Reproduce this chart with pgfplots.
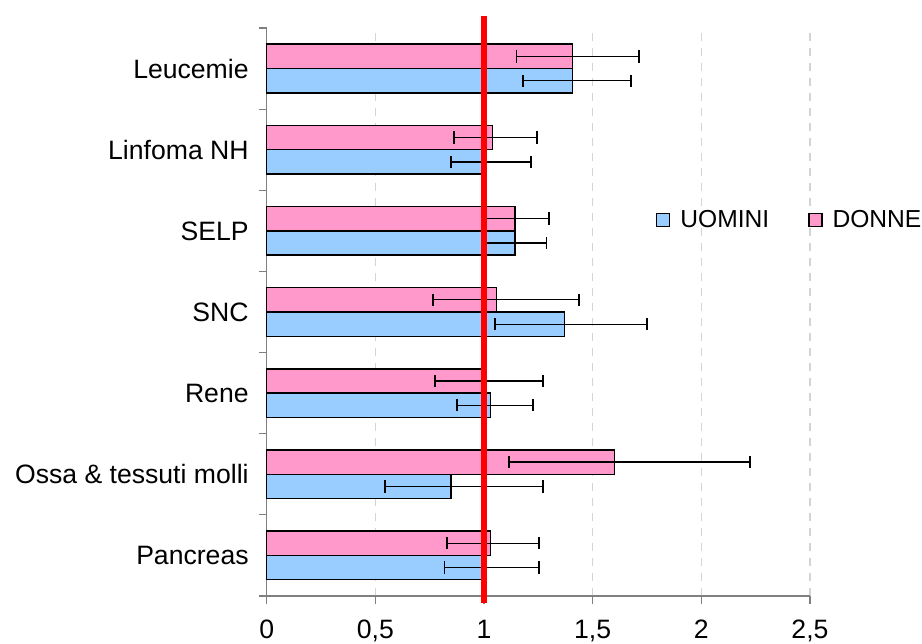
\documentclass[border=0pt]{standalone}
\usepackage{fontspec}
\setmainfont{Liberation Sans}
\usepackage{pgfplots}
\usepackage{pgfplotstable}
\pgfplotsset{compat=1.18}
\definecolor{uom}{HTML}{99CCFF}
\definecolor{don}{HTML}{FF99CC}
\definecolor{axgray}{HTML}{808080}
\definecolor{gridgray}{HTML}{D4D4D4}

% pos: 0 Pancreas, 1 Ossa, 2 Rene, 3 SNC, 4 SELP, 5 Linfoma NH, 6 Leucemie
\pgfplotstableread{
pos val em ep
0 1.000 0.182 0.252
1 0.847 0.304 0.423
2 1.031 0.155 0.193
3 1.370 0.321 0.379
4 1.143 0.143 0.145
5 0.995 0.148 0.221
6 1.408 0.229 0.267
}\uomini

\pgfplotstableread{
pos val em ep
0 1.031 0.203 0.221
1 1.601 0.487 0.624
2 0.995 0.222 0.275
3 1.058 0.293 0.379
4 1.143 0.143 0.155
5 1.040 0.177 0.203
6 1.408 0.258 0.304
}\donne

\begin{document}
\begin{tikzpicture}
\begin{axis}[
  scale only axis, width=271.65pt, height=284pt,
  xmin=0, xmax=2.5, ymin=-0.5, ymax=6.5,
  clip=false,
  bar width=0.3,
  axis lines=left,
  axis line style={-, axgray, line width=0.6pt},
  tick style={axgray, line width=0.6pt},
  tick align=outside,
  major tick length=4pt,
  xtick={0,0.5,1,1.5,2,2.5},
  ytick={-0.5,0.5,1.5,2.5,3.5,4.5,5.5,6.5},
  yticklabels={Pancreas,Ossa \& tessuti molli,Rene,SNC,SELP,Linfoma NH,Leucemie},
  y tick label as interval,
  xmajorgrids,
  major grid style={gridgray, dash pattern=on 4pt off 3.5pt, line width=0.6pt},
  /pgf/number format/.cd, use comma, assume math mode=true,
  /pgfplots/.cd,
  every tick label/.append style={font=\fontsize{13.3}{16}\selectfont, black},
  xticklabel style={yshift=-4.5pt},
  yticklabel style={xshift=-1.5pt},
  legend style={at={(0.705,0.662)}, anchor=west, draw=none, fill=none,
    font=\fontsize{12.3}{15}\selectfont, legend columns=2,
    /tikz/every odd column/.append style={column sep=3pt},
    /tikz/every even column/.append style={column sep=17.5pt}},
]
\addplot[xbar, bar shift=0pt, fill=uom, draw=black, line width=0.75pt,
  legend image code/.code={\draw[fill=uom, draw=black, line width=0.65pt] (0pt,-3.25pt) rectangle (6.5pt,3.25pt);},
  error bars/.cd, x dir=both, x explicit, error mark=|,
  error bar style={black, line width=0.65pt},
  error mark options={black, mark size=3.1pt, line width=0.9pt}]
  table[x=val, y expr=\thisrow{pos}-0.15, x error minus=em, x error plus=ep]{\uomini};
\addlegendentry{UOMINI}
\addplot[xbar, bar shift=0pt, fill=don, draw=black, line width=0.75pt,
  legend image code/.code={\draw[fill=don, draw=black, line width=0.65pt] (0pt,-3.25pt) rectangle (6.5pt,3.25pt);},
  error bars/.cd, x dir=both, x explicit, error mark=|,
  error bar style={black, line width=0.65pt},
  error mark options={black, mark size=3.1pt, line width=0.9pt}]
  table[x=val, y expr=\thisrow{pos}+0.15, x error minus=em, x error plus=ep]{\donne};
\addlegendentry{DONNE}
\addplot[sharp plot, red, line width=3.3pt, forget plot] coordinates {(1,-0.586) (1,6.648)};
\coordinate (bbSW) at (rel axis cs:-0.4909,-0.0845);
\coordinate (bbNE) at (rel axis cs:1.2062,1.0493);
\end{axis}
\pgfresetboundingbox
\path[use as bounding box] (bbSW) rectangle (bbNE);
\end{tikzpicture}
\end{document}
